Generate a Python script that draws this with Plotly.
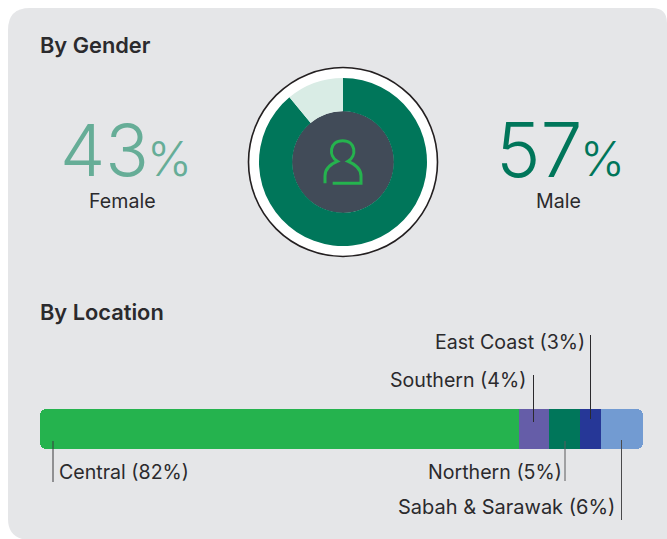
import plotly.graph_objects as go

W, H = 667, 539

# Data
gender_labels = ["Female", "Male"]
gender_pct_text = ["43", "57"]
donut_labels = ["Dark share", "Light share"]
donut_values = [89, 11]
donut_colors = ["#00765A", "#D9ECE5"]

loc_labels = ["Central", "Southern", "Northern", "East Coast", "Sabah & Sarawak"]
loc_label_pct = [82, 4, 5, 3, 6]
loc_widths = [79.4, 5.0, 5.1, 3.6, 6.9]
loc_colors = ["#25B34E", "#655DA8", "#00765A", "#263797", "#729BD2"]

FONT = "Inter"
TXT = "#2B2A2D"


def fx(x):
    return x / W


def fy(y):
    return 1 - y / H


def P(x, y):
    return f"{fx(x):.5f},{fy(y):.5f}"


def zoom_pt(zx, zy):
    return P(230 + zx / 3, 50 + zy / 3)


fig = go.Figure()

# donut
cx, cy, r = 343, 162, 84
fig.add_trace(go.Pie(
    labels=donut_labels, values=donut_values, sort=False, direction="clockwise",
    rotation=0, hole=50.7 / 84, textinfo="none", hoverinfo="skip", showlegend=False,
    marker=dict(colors=donut_colors, line=dict(width=0)),
    domain=dict(x=[fx(cx - r), fx(cx + r)], y=[fy(cy + r), fy(cy - r)]),
))

# location bar: the two rounded end pieces run under their neighbour so that
# only their outer corners show; they are drawn first.
starts = [sum(loc_widths[:i]) for i in range(len(loc_widths))]
TUCK = 2
last = len(loc_widths) - 1
for i in [0, last, 1, 2, 3]:
    s, w = starts[i], loc_widths[i]
    rad = 0
    if i == 0:
        w, rad = w + TUCK, 6
    elif i == last:
        s, w, rad = s - TUCK, w + TUCK, 6
    fig.add_trace(go.Bar(
        x=[w], y=[0], base=[s], orientation="h", name=loc_labels[i], showlegend=False,
        marker=dict(color=loc_colors[i], line=dict(width=0), cornerradius=rad), width=1, hoverinfo="skip",
    ))

shapes = []


def circle(cx_, cy_, rad, fill, line=None, lw=0, layer="below"):
    shapes.append(dict(
        type="circle", xref="paper", yref="paper", layer=layer,
        x0=fx(cx_ - rad), x1=fx(cx_ + rad), y0=fy(cy_ + rad), y1=fy(cy_ - rad),
        fillcolor=fill, line=dict(color=line or fill, width=lw),
    ))


# panel
R, R2 = 22, 15
L, T, Rt = 8, 8, 667
shapes.append(dict(
    type="path", xref="paper", yref="paper", layer="below", fillcolor="#E5E6E8", line=dict(width=0),
    path=(
        f"M {P(L, T + R)} Q {P(L, T)} {P(L + R, T)} L {P(Rt - R2, T)} Q {P(Rt, T)} {P(Rt, T + R2)} "
        f"L {P(Rt, H)} L {P(L + 14, H)} Q {P(L, H - 4)} {P(L, H - 20)} Z"
    ),
))

circle(cx, cy, 94.5, "#FFFFFF", "#231F20", 1.6)
circle(cx, cy, 51, "#414B58")

# person icon
icon = (
    f"M {zoom_pt(285, 400)} L {zoom_pt(285, 378)} "
    f"C {zoom_pt(285, 355)} {zoom_pt(302, 342)} {zoom_pt(322, 334)} "
    f"C {zoom_pt(295, 318)} {zoom_pt(298, 272)} {zoom_pt(338, 272)} "
    f"C {zoom_pt(378, 272)} {zoom_pt(381, 318)} {zoom_pt(354, 334)} "
    f"C {zoom_pt(374, 342)} {zoom_pt(393, 355)} {zoom_pt(393, 378)} "
    f"L {zoom_pt(393, 400)} L {zoom_pt(308, 400)}"
)
shapes.append(dict(type="path", xref="paper", yref="paper", layer="above", path=icon,
                   line=dict(color="#25B34E", width=3)))

# leader lines
leaders = [
    (53, 441, 482, "#3A3A3C"),
    (533.5, 375, 422, "#2B2A2D"),
    (565, 441, 481, "#5A5A5C"),
    (590.5, 335, 419, "#2B2A2D"),
    (621.5, 440, 520, "#4A4A4C"),
]
for x, y0, y1, col in leaders:
    shapes.append(dict(type="line", xref="paper", yref="paper", layer="above",
                       x0=fx(x), x1=fx(x), y0=fy(y0), y1=fy(y1), line=dict(color=col, width=1)))

annotations = []


def text(x, y, s, size, color=TXT, anchor="left", weight=400):
    annotations.append(dict(
        xref="paper", yref="paper", x=fx(x), y=fy(y), text=s, showarrow=False,
        xanchor=anchor, yanchor="middle", borderpad=0,
        font=dict(family=FONT, size=size, color=color, weight=weight),
    ))


text(39, 45.5, "By Gender", 21.8, weight=600)
text(39, 311.5, "By Location", 21.8, weight=600)

FEM = "#66AD97"
MAL = "#00765A"
text(59, 149, gender_pct_text[0], 72, FEM, weight=350)
text(146, 158, "%", 48, FEM, weight=300)
text(122, 201, gender_labels[0], 19.6, anchor="center")
text(495, 149, gender_pct_text[1], 75, MAL, weight=350)
text(579, 158, "%", 48, MAL, weight=300)
text(558, 201, gender_labels[1], 19.6, anchor="center")


def lab(i):
    return f"{loc_labels[i]} ({loc_label_pct[i]}%)"


text(58, 472, lab(0), 19.6)
text(526.5, 380, lab(1), 19.6, anchor="right")
text(562.5, 472, lab(2), 19.6, anchor="right")
text(585.5, 342, lab(3), 19.6, anchor="right")
text(615.5, 507, lab(4), 20, anchor="right")

fig.update_layout(
    width=W, height=H, autosize=False,
    margin=dict(l=0, r=0, t=0, b=0), paper_bgcolor="#FFFFFF", plot_bgcolor="rgba(0,0,0,0)",
    barmode="overlay", bargap=0, showlegend=False,
    xaxis=dict(domain=[fx(40), fx(643)], range=[0, sum(loc_widths)], visible=False, fixedrange=True),
    yaxis=dict(domain=[fy(449), fy(409)], range=[-0.5, 0.5], visible=False, fixedrange=True),
    shapes=shapes, annotations=annotations,
)

fig.write_html("out.html", config=dict(displayModeBar=False),
               post_script="document.body.style.margin='0';document.body.style.overflow='hidden';")
